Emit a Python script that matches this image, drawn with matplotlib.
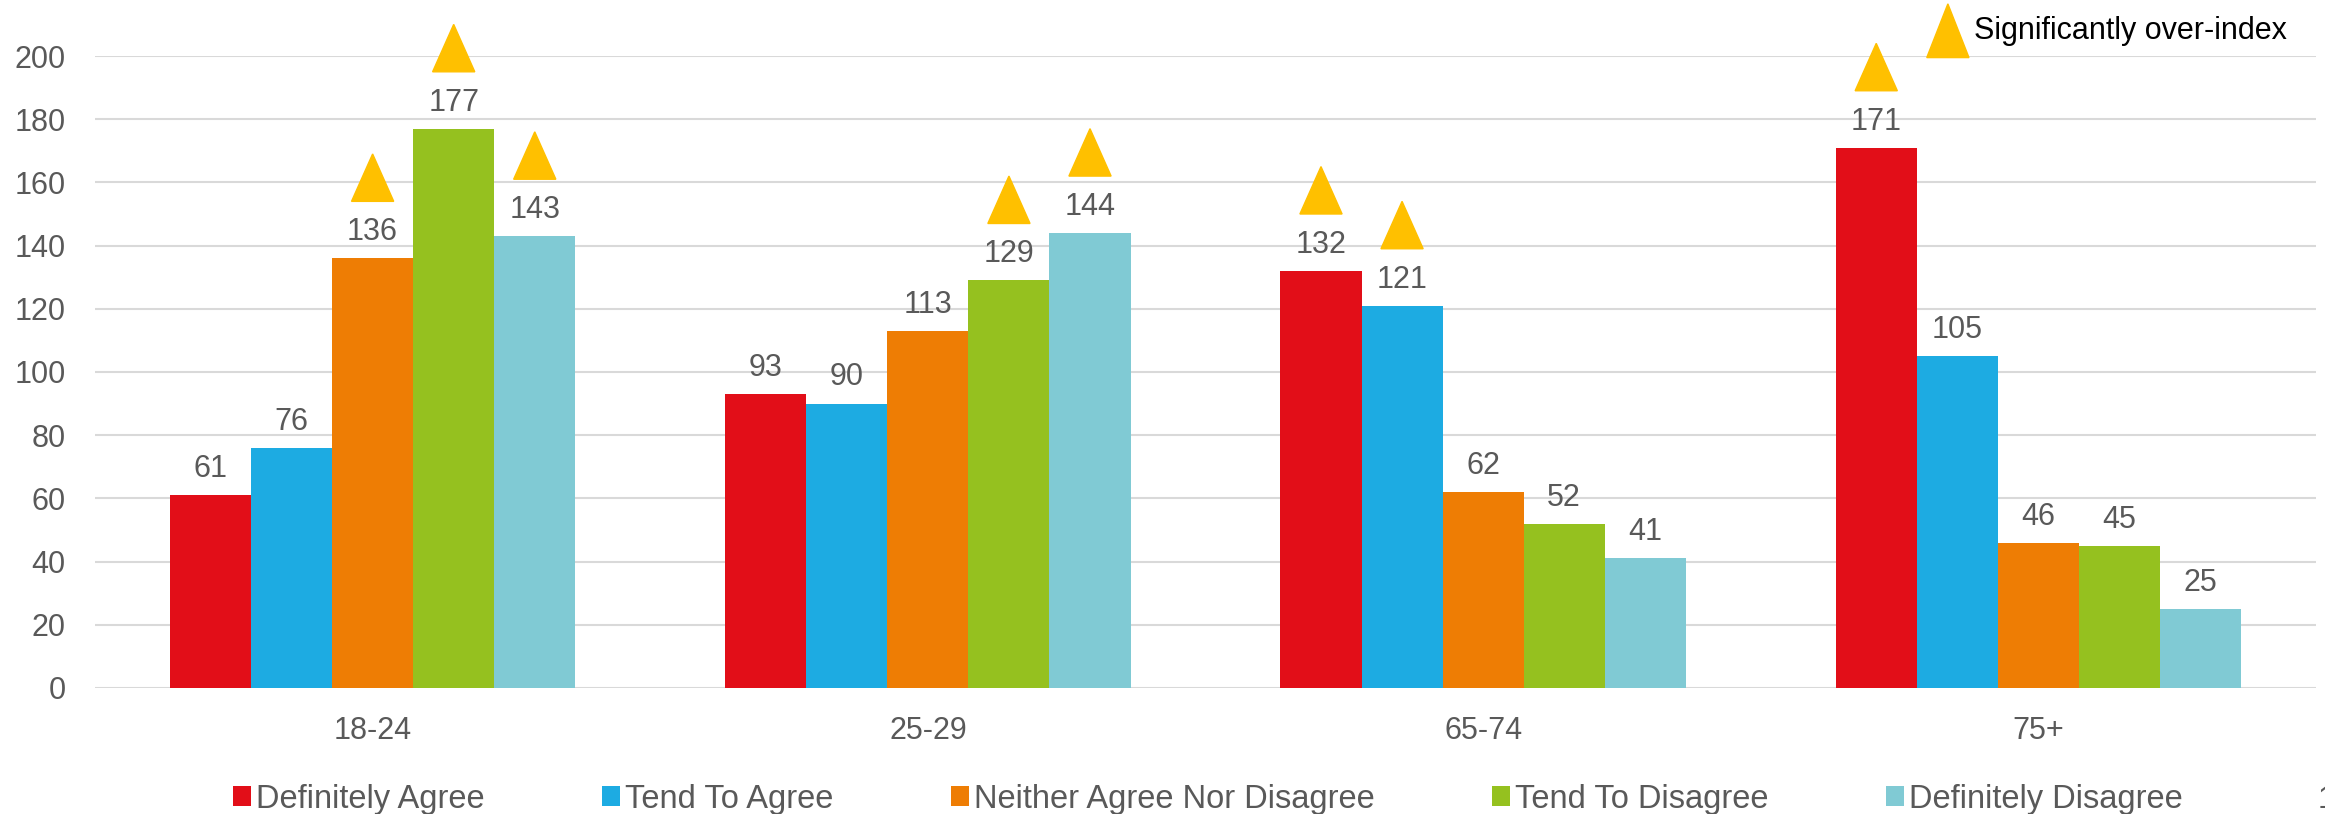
import matplotlib
matplotlib.use("Agg")
import matplotlib.pyplot as plt
from matplotlib.patches import Polygon, Patch
import numpy as np

plt.rcParams['font.family'] = ['Liberation Sans', 'DejaVu Sans']

# Data
age_groups = ["18-24", "25-29", "65-74", "75+"]
series_names = ["Definitely Agree", "Tend To Agree", "Neither Agree Nor Disagree",
                "Tend To Disagree", "Definitely Disagree"]
definitely_agree = [61, 93, 132, 171]
tend_to_agree = [76, 90, 121, 105]
neither = [136, 113, 62, 46]
tend_to_disagree = [177, 129, 52, 45]
definitely_disagree = [143, 144, 41, 25]
# flags: significantly over-index (per series, per age group)
sig_definitely_agree = [False, False, True, True]
sig_tend_to_agree = [False, False, True, False]
sig_neither = [True, False, False, False]
sig_tend_to_disagree = [True, True, False, False]
sig_definitely_disagree = [True, True, False, False]

series_values = [definitely_agree, tend_to_agree, neither, tend_to_disagree, definitely_disagree]
series_sig = [sig_definitely_agree, sig_tend_to_agree, sig_neither,
              sig_tend_to_disagree, sig_definitely_disagree]
colors = ["#E20E18", "#1DABE2", "#EE7D04", "#95C11F", "#80CAD4"]
marker_color = "#FFC000"
text_color = "#595959"
fs = 22
legend_fs = 23.5

fig = plt.figure(figsize=(23.25, 8.14), dpi=100)
ax = fig.add_axes([0.04086, 0.1548, 0.99613 - 0.04086, 0.9312 - 0.1548])

x = np.arange(len(age_groups))
bar_w = 0.146
tri_half = 0.038

for i, (vals, sig, col) in enumerate(zip(series_values, series_sig, colors)):
    xs = x + (i - 2) * bar_w
    ax.bar(xs, vals, width=bar_w, color=col, zorder=2)
    for xi, v, s in zip(xs, vals, sig):
        ax.annotate(str(v), (xi, v), xytext=(0, 8), textcoords="offset points",
                    ha="center", va="bottom", fontsize=fs, color=text_color)
        if s:
            tri = Polygon([(xi - tri_half, v + 18), (xi + tri_half, v + 18), (xi, v + 33)],
                          closed=True, color=marker_color, clip_on=False, zorder=3)
            ax.add_patch(tri)

# key for the significance marker
kx = 2.837
ax.add_patch(Polygon([(kx - tri_half, 199.5), (kx + tri_half, 199.5), (kx, 216.5)],
                     closed=True, color=marker_color, clip_on=False, zorder=3))
ax.text(kx + 0.047, 208, "Significantly over-index", fontsize=fs, color="black",
        ha="left", va="center")

ax.set_xlim(-0.5, 3.5)
ax.set_ylim(0, 200)
ax.set_yticks(np.arange(0, 201, 20))
ax.set_xticks(x)
ax.set_xticklabels(age_groups)
ax.yaxis.grid(True, color="#D9D9D9", linewidth=1.5, zorder=0)
ax.set_axisbelow(True)
for sp in ax.spines.values():
    sp.set_visible(False)
ax.tick_params(axis="both", length=0, labelsize=fs, labelcolor=text_color)
ax.tick_params(axis="x", pad=20)
ax.tick_params(axis="y", pad=21)

handles = [Patch(facecolor=c, edgecolor="none") for c in colors]
leg = fig.legend(handles, series_names, loc="center", bbox_to_anchor=(1208 / 2325, 0.0184),
                 ncol=5, frameon=False, fontsize=legend_fs, handlelength=0.55,
                 handleheight=0.6, handletextpad=0.15, columnspacing=3.6,
                 borderpad=0, borderaxespad=0)
for t in leg.get_texts():
    t.set_color(text_color)

fig.text(2318 / 2325, 14 / 814, "1", fontsize=fs, color=text_color, ha="left", va="center")

fig.savefig("out.png", dpi=100)
